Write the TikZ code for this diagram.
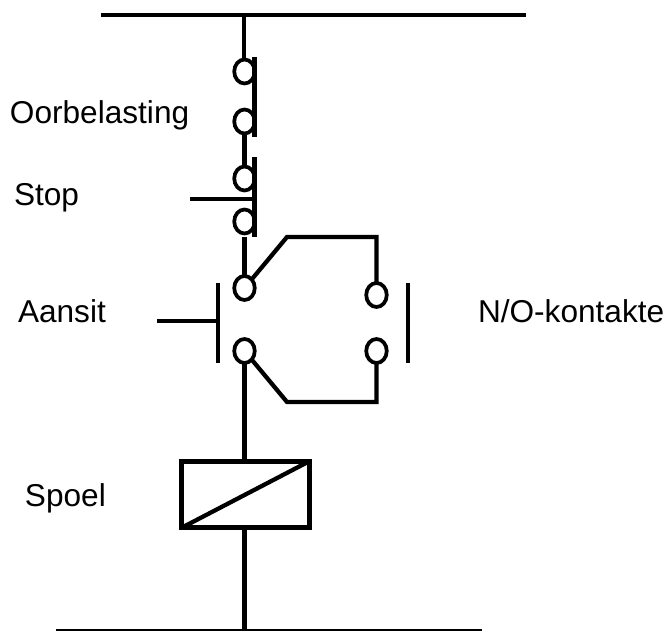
\documentclass[tikz,border=0pt]{standalone}
\usepackage{fontspec}
\setmainfont{Liberation Sans}
\usetikzlibrary{shapes.geometric}
\tikzset{
  x=0.75pt,y=-0.75pt,
  wire/.style={line width=3.2pt,black,line join=miter},
  thin wire/.style={line width=2.25pt,black},
  contact/.style={ellipse,draw,line width=2.8pt,minimum width=15.4pt,minimum height=18pt,inner sep=0pt,outer sep=0pt},
  lbl/.style={inner sep=0pt,outer sep=0pt,anchor=base west,font=\fontsize{23.7pt}{26pt}\selectfont},
}
\begin{document}
\begin{tikzpicture}
\useasboundingbox (0,0) rectangle (668,631);
% rails
\coordinate (topL) at (101,15); \coordinate (topR) at (526,15); \coordinate (topJ) at (244,15);
\coordinate (botL) at (56,630); \coordinate (botR) at (482,630); \coordinate (botJ) at (244,630);
\draw[wire] (topL) -- (topR);
\draw[thin wire] (botL) -- (botR);
% contacts
\node[contact] (c1) at (244.5,71.5) {};
\node[contact] (c2) at (244.5,121.5) {};
\node[contact] (c3) at (244.5,178.5) {};
\node[contact] (c4) at (244.5,221.5) {};
\node[contact] (c5) at (244.5,288) {};
\node[contact] (c6) at (244.5,351) {};
\node[contact] (r1) at (376.5,295) {};
\node[contact] (r2) at (376.5,351) {};
% movable bars
\coordinate (b1a) at (254.5,57); \coordinate (b1b) at (254.5,137);
\coordinate (b2a) at (254.5,157); \coordinate (b2b) at (254.5,237);
\coordinate (b3a) at (218,283); \coordinate (b3b) at (218,363);
\coordinate (b4a) at (408,283); \coordinate (b4b) at (408,363);
\draw[wire] (b1a) -- (b1b);
\draw[wire] (b2a) -- (b2b);
\draw[wire] (b3a) -- (b3b);
\draw[wire] (b4a) -- (b4b);
% pushers
\coordinate (s1) at (190,199); \coordinate (s1e) at (254.5,199);
\coordinate (s2) at (157,321); \coordinate (s2e) at (218,321);
\draw[wire] (s1) -- (s1e);
\draw[wire] (s2) -- (s2e);
% series stems
\coordinate (t4) at (244.5,237);
\draw[wire] (topJ) -- (c1.north -| topJ);
\draw[wire] (c2.south) -- (c3.north);
\draw[wire] (t4) -- (c5.north);
% parallel branch
\coordinate (p1) at (287,237); \coordinate (p2) at (376.5,237);
\coordinate (p3) at (287,402); \coordinate (p4) at (376.5,402);
\draw[wire] (c5.50) -- (p1) -- (p2) -- (r1.north);
\draw[wire] (c6.-50) -- (p3) -- (p4) -- (r2.south);
% coil
\node[draw,line width=3.6pt,minimum width=96pt,minimum height=50pt,inner sep=0pt,outer sep=0pt] (coil) at (245.5,494.5) {};
\draw[wire] (coil.south west) -- (coil.north east);
\draw[wire] (c6.south) -- (coil.north -| c6.south);
\draw[wire] (coil.south -| c6.south) -- (botJ -| c6.south);
% labels
\node[lbl] (l1) at (10,124) {Oorbelasting};
\node[lbl] (l2) at (14,206) {Stop};
\node[lbl] (l3) at (18,322) {Aansit};
\node[lbl] (l4) at (478,322) {N/O-kontakte};
\node[lbl] (l5) at (25,506) {Spoel};
\end{tikzpicture}
\end{document}
